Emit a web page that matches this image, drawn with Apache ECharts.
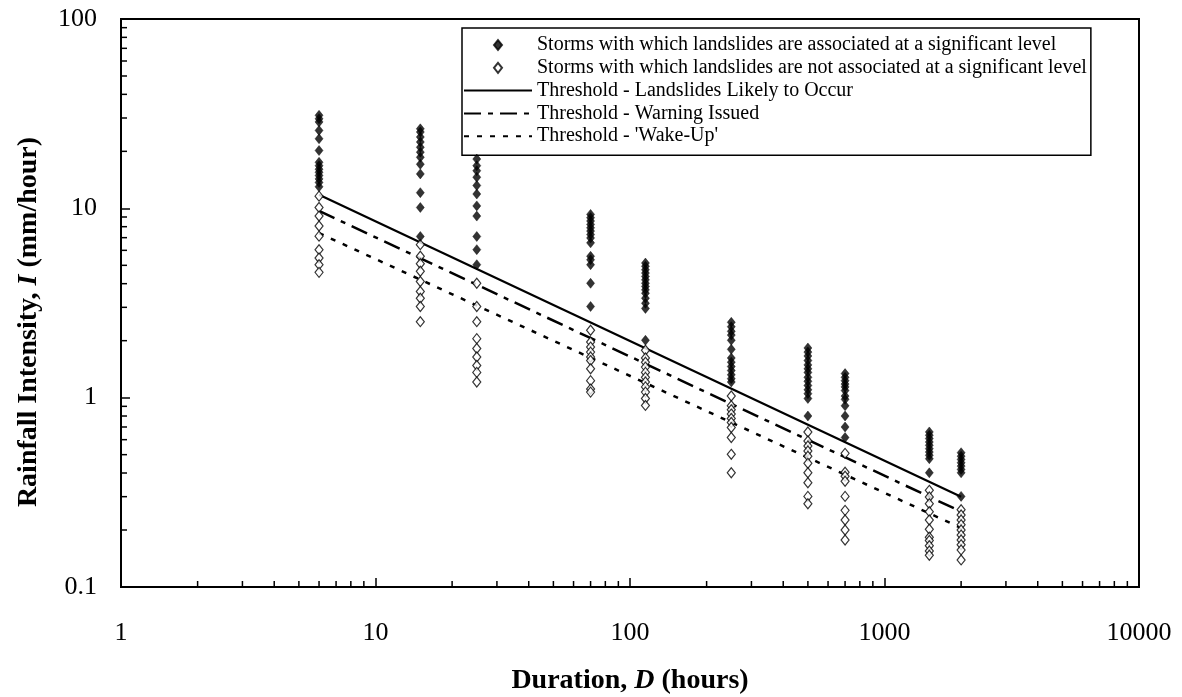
<!DOCTYPE html>
<html><head><meta charset="utf-8">
<script src="https://cdn.jsdelivr.net/npm/echarts@6/dist/echarts.min.js"></script>
<style>html,body{margin:0;padding:0;background:#fff}#c{width:1182px;height:697px}</style>
</head><body><div id="c"></div>
<script>
// ---- data ----
const durations = [6, 15, 25, 70, 115, 250, 500, 700, 1500, 2000];

// Storms with which landslides are associated at a significant level (filled diamonds), one list per duration
const significant = [
  [31, 29.7, 28.6, 25.8, 23.3, 20.2, 17.5, 16.8, 16.1, 15.5, 14.9, 14.3, 13.7, 13.0],
  [26.3, 25.3, 23.8, 22.4, 21.0, 19.8, 18.6, 17.1, 15.2, 12.1, 10.1, 7.1],
  [18.2, 16.8, 15.8, 14.6, 13.2, 11.9, 10.3, 9.1, 7.1, 6.05, 5.04],
  [9.29, 8.93, 8.57, 8.22, 7.89, 7.58, 7.27, 6.98, 6.57, 5.58, 5.35, 5.04, 4.02, 3.03],
  [5.14, 4.94, 4.74, 4.55, 4.37, 4.19, 4.02, 3.87, 3.71, 3.56, 3.35, 3.15, 2.96, 2.01],
  [2.50, 2.37, 2.24, 2.14, 2.01, 1.80, 1.62, 1.54, 1.46, 1.39, 1.32, 1.26, 1.21],
  [1.83, 1.74, 1.66, 1.57, 1.49, 1.42, 1.36, 1.28, 1.22, 1.16, 1.10, 1.05, 0.99, 0.80],
  [1.34, 1.28, 1.23, 1.18, 1.14, 1.09, 1.02, 0.98, 0.906, 0.80, 0.70, 0.616],
  [0.659, 0.633, 0.608, 0.583, 0.56, 0.538, 0.516, 0.496, 0.476, 0.401],
  [0.512, 0.491, 0.472, 0.453, 0.435, 0.418, 0.401, 0.301]
];

// Storms with which landslides are not associated at a significant level (open diamonds)
const notSignificant = [
  [11.6, 10.1, 9.1, 8.06, 7.13, 6.05, 5.47, 5.04, 4.59],
  [6.43, 5.58, 5.10, 4.65, 4.11, 3.64, 3.35, 3.03, 2.52],
  [4.02, 3.03, 2.52, 2.05, 1.82, 1.64, 1.48, 1.36, 1.21],
  [2.27, 1.97, 1.85, 1.74, 1.64, 1.57, 1.42, 1.23, 1.11, 1.07],
  [1.78, 1.62, 1.54, 1.45, 1.36, 1.28, 1.21, 1.14, 1.07, 0.99, 0.91],
  [1.02, 0.906, 0.863, 0.819, 0.777, 0.740, 0.696, 0.616, 0.502, 0.401],
  [0.659, 0.59, 0.556, 0.523, 0.491, 0.45, 0.401, 0.355, 0.301, 0.275],
  [0.508, 0.404, 0.385, 0.362, 0.301, 0.254, 0.226, 0.20, 0.177],
  [0.324, 0.299, 0.275, 0.25, 0.226, 0.202, 0.183, 0.176, 0.165, 0.155, 0.147],
  [0.256, 0.24, 0.226, 0.213, 0.20, 0.188, 0.177, 0.167, 0.157, 0.139]
];

// Threshold lines (endpoints at D = 6 h and D = 2000 h)
const thresholdDurations = [6, 2000];
const thresholdLikely = [11.8, 0.3];
const thresholdWarning = [9.7, 0.25];
const thresholdWakeUp = [7.4, 0.205];

const xTickLabels = ['1', '10', '100', '1000', '10000'];
const yTickLabels = ['0.1', '1', '10', '100'];
const minorMultipliers = [2, 3, 4, 5, 6, 7, 8, 9];
const xMinorDecades = [1, 10, 100, 1000];
const yMinorDecades = [0.1, 1, 10];

const seriesNames = [
  'Storms with which landslides are associated at a significant level',
  'Storms with which landslides are not associated at a significant level',
  'Threshold - Landslides Likely to Occur',
  'Threshold - Warning Issued',
  "Threshold - 'Wake-Up'"
];

// ---- build ----
const F = '"Liberation Serif", "Times New Roman", serif';
function pairs(rows) {
  const out = [];
  rows.forEach((r, i) => r.forEach(v => out.push([durations[i], v])));
  return out;
}
function linePairs(vals) { return thresholdDurations.map((d, i) => [d, vals[i]]); }
const xMinor = [], yMinor = [];
xMinorDecades.forEach(d => minorMultipliers.forEach(m => xMinor.push([m * d, 0.1])));
yMinorDecades.forEach(d => minorMultipliers.forEach(m => yMinor.push([1, +(m * d).toPrecision(3)])));

const diamondPath = 'path://M4,0L8,5L4,10L0,5Z';
const hiddenDot = { color: 'rgba(0,0,0,0)', borderWidth: 0, opacity: 0 };

const chart = echarts.init(document.getElementById('c'), null, { renderer: 'canvas' });
const axisCommon = {
  type: 'log', logBase: 10,
  nameLocation: 'middle',
  axisLine: { show: true, lineStyle: { color: '#000', width: 2 } },
  axisTick: { show: true, inside: true, length: 9, lineStyle: { color: '#000', width: 1.5 } },
  splitLine: { show: false },
  minorTick: { show: false },
};
const boldRich = {
  b: { fontFamily: F, fontWeight: 'bold', fontSize: 28, color: '#000' },
  bi: { fontFamily: F, fontWeight: 'bold', fontStyle: 'italic', fontSize: 28, color: '#000' }
};
chart.setOption({
  animation: false,
  backgroundColor: '#fff',
  grid: { left: 121, right: 43, top: 19, bottom: 110, show: true, borderColor: '#000', borderWidth: 2, backgroundColor: 'transparent', outerBoundsMode: 'none' },
  xAxis: Object.assign({}, axisCommon, {
    min: 1, max: 10000,
    name: '{b|Duration, }{bi|D}{b| (hours)}',
    nameGap: 80,
    nameTextStyle: { rich: boldRich },
    axisLabel: {
      margin: 33, fontFamily: F, fontSize: 26, color: '#000',
      formatter: v => xTickLabels[Math.round(Math.log10(v))]
    }
  }),
  yAxis: Object.assign({}, axisCommon, {
    min: 0.1, max: 100,
    name: '{b|Rainfall Intensity, }{bi|I}{b| (mm/hour)}',
    nameGap: 78,
    nameTextStyle: { rich: boldRich, padding: [0, 38, 0, 0] },
    axisLabel: {
      margin: 24, fontFamily: F, fontSize: 26, color: '#000',
      formatter: v => yTickLabels[Math.round(Math.log10(v)) + 1]
    }
  }),
  legend: {
    orient: 'vertical', left: 462, top: 28,
    itemWidth: 68, itemHeight: 10, itemGap: 2.8,
    padding: [7, 4, 9, 1],
    borderColor: '#000', borderWidth: 1.5,
    symbolKeepAspect: true,
    selectedMode: false,
    textStyle: { fontFamily: F, fontSize: 20, color: '#000', lineHeight: 20 },
    data: [
      { name: seriesNames[0], icon: diamondPath },
      { name: seriesNames[1], icon: diamondPath },
      { name: seriesNames[2], itemStyle: hiddenDot },
      { name: seriesNames[3], itemStyle: hiddenDot },
      { name: seriesNames[4], itemStyle: hiddenDot }
    ]
  },
  series: [
    {
      type: 'line', name: seriesNames[2], data: linePairs(thresholdLikely),
      symbol: 'none', lineStyle: { color: '#000', width: 2.2, type: 'solid' }, z: 2
    },
    {
      type: 'line', name: seriesNames[3], data: linePairs(thresholdWarning),
      symbol: 'none', lineStyle: { color: '#000', width: 2.5, type: [17, 7, 5, 7] }, z: 2
    },
    {
      type: 'line', name: seriesNames[4], data: linePairs(thresholdWakeUp),
      symbol: 'none', lineStyle: { color: '#000', width: 2.5, type: [5, 8] }, z: 2
    },
    {
      type: 'scatter', name: seriesNames[0], data: pairs(significant),
      symbol: 'diamond', symbolSize: [8, 10],
      itemStyle: { color: '#000', borderColor: '#000', borderWidth: 0.5 }, z: 4
    },
    {
      type: 'scatter', name: seriesNames[1], data: pairs(notSignificant),
      symbol: 'diamond', symbolSize: [8, 10],
      itemStyle: { color: '#fff', borderColor: '#000', borderWidth: 1.2 }, z: 3
    },
    {
      type: 'custom', silent: true, data: xMinor, encode: { x: 0, y: 1 },
      renderItem: (params, api) => {
        const p = api.coord([api.value(0), api.value(1)]);
        return { type: 'line', shape: { x1: p[0], y1: p[1], x2: p[0], y2: p[1] - 6 }, style: { stroke: '#000', lineWidth: 1.5 } };
      }, z: 5
    },
    {
      type: 'custom', silent: true, data: yMinor, encode: { x: 0, y: 1 },
      renderItem: (params, api) => {
        const p = api.coord([api.value(0), api.value(1)]);
        return { type: 'line', shape: { x1: p[0], y1: p[1], x2: p[0] + 6, y2: p[1] }, style: { stroke: '#000', lineWidth: 1.5 } };
      }, z: 5
    }
  ]
});
</script></body></html>
